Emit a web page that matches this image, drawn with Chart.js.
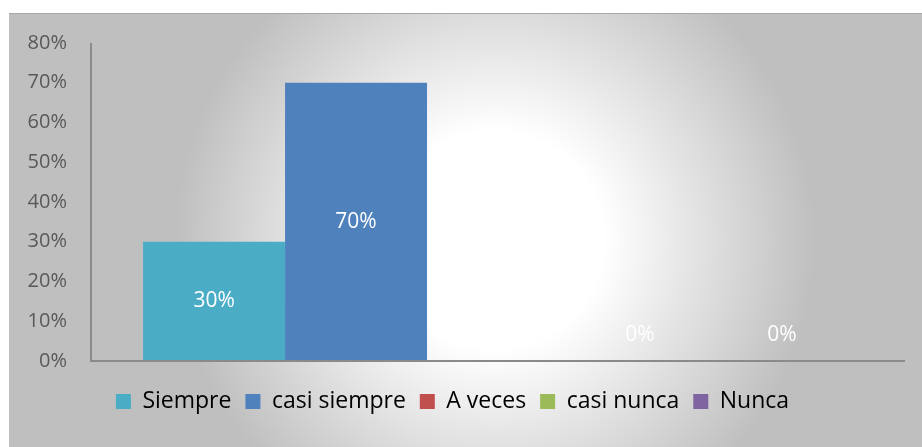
<!DOCTYPE html>
<html>
<head>
<meta charset="utf-8">
<script src="https://cdn.jsdelivr.net/npm/chart.js@4.4.1/dist/chart.umd.min.js"></script>
<style>
  html, body { margin: 0; padding: 0; background: #ffffff; }
  #wrap { width: 922px; height: 447px; position: relative; }
</style>
</head>
<body>
<div id="wrap"><canvas id="grafico"></canvas></div>
<script>
// Datos del gráfico
const categorias = [''];
const series = ['Siempre', 'casi siempre', 'A veces', 'casi nunca', 'Nunca'];
const valores = [30, 70, 0, 0, 0];
const colores = ['#4bacc6', '#4f81bd', '#c0504d', '#9bbb59', '#8064a2'];
const ticksY = [0, 10, 20, 30, 40, 50, 60, 70, 80];

const FUENTE = "'Open Sans', 'DejaVu Sans', sans-serif";

// Fondo gris con degradado radial
const fondoPlugin = {
    id: 'fondo',
    beforeDraw(chart) {
        const ctx = chart.ctx;
        const w = chart.width, h = chart.height;
        ctx.save();
        ctx.fillStyle = '#ffffff';
        ctx.fillRect(0, 0, w, h);
        const g = ctx.createRadialGradient(495, 240, 0, 495, 240, 320);
        g.addColorStop(0, '#ffffff');
        g.addColorStop(0.34, '#ffffff');
        g.addColorStop(1, '#bfbfbf');
        ctx.fillStyle = g;
        ctx.fillRect(9, 13, w - 9, h - 13);
        ctx.strokeStyle = '#a8a8a8';
        ctx.lineWidth = 1;
        ctx.beginPath();
        ctx.moveTo(9, 13.5);
        ctx.lineTo(w, 13.5);
        ctx.stroke();
        ctx.restore();
    }
};

// Ejes y etiquetas de datos en blanco
const etiquetasPlugin = {
    id: 'etiquetas',
    afterDatasetsDraw(chart) {
        const ctx = chart.ctx;
        const a = chart.chartArea;
        ctx.save();
        ctx.strokeStyle = '#8a8a8a';
        ctx.lineWidth = 2;
        ctx.beginPath();
        ctx.moveTo(a.left, a.top);
        ctx.lineTo(a.left, a.bottom);
        ctx.lineTo(a.right, a.bottom);
        ctx.stroke();

        ctx.fillStyle = '#ffffff';
        ctx.font = '21px ' + FUENTE;
        ctx.textAlign = 'center';
        ctx.textBaseline = 'middle';
        chart.data.datasets.forEach((ds, i) => {
            const meta = chart.getDatasetMeta(i);
            meta.data.forEach((bar, j) => {
                const v = ds.data[j];
                // las barras en cero llevan la etiqueta un poco por encima del eje
                const y = v > 0 ? (bar.y + bar.base) / 2 : bar.base - 26;
                ctx.fillText(v + '%', bar.x, y);
            });
        });
        ctx.restore();
    }
};

const datasets = series.map((nombre, i) => ({
    label: nombre,
    data: [valores[i]],
    backgroundColor: colores[i],
    borderWidth: 0,
    categoryPercentage: 0.872,
    barPercentage: 1
}));

new Chart(document.getElementById('grafico').getContext('2d'), {
    type: 'bar',
    data: { labels: categorias, datasets: datasets },
    options: {
        responsive: true,
        maintainAspectRatio: false,
        animation: false,
        layout: { padding: { left: 0, top: 43, right: 17, bottom: 24 } },
        plugins: {
            legend: {
                position: 'bottom',
                labels: {
                    boxWidth: 15,
                    boxHeight: 15,
                    padding: 14,
                    color: '#000000',
                    font: { family: FUENTE, size: 23 }
                }
            },
            tooltip: { enabled: false }
        },
        scales: {
            x: {
                grid: { display: false },
                border: { display: false },
                ticks: { display: false },
                afterFit(scale) { scale.height = 15; }
            },
            y: {
                min: 0,
                max: 80,
                afterBuildTicks(scale) { scale.ticks = ticksY.map(v => ({ value: v })); },
                grid: { display: false, drawTicks: false },
                border: { display: false },
                ticks: {
                    padding: 24,
                    color: '#595959',
                    font: { family: FUENTE, size: 20 },
                    callback: v => v + '%'
                },
                afterFit(scale) { scale.width = 91; }
            }
        }
    },
    plugins: [fondoPlugin, etiquetasPlugin]
});
</script>
</body>
</html>
